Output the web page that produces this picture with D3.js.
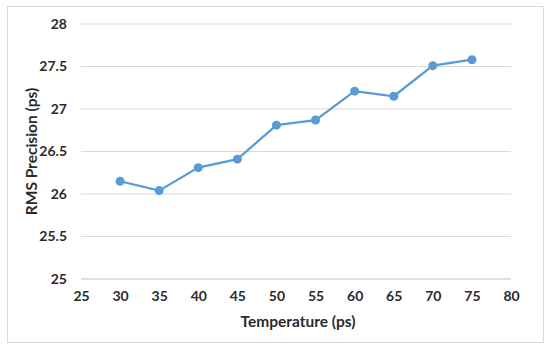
<!DOCTYPE html>
<html>
<head>
<meta charset="utf-8">
<script src="https://cdn.jsdelivr.net/npm/d3@7"></script>
<style>
  body { margin: 0; background: #fff; }
  text { font-family: Lato, "Open Sans", sans-serif; font-weight: bold; fill: #2b2b2b; }
</style>
</head>
<body>
<div id="chart"></div>
<script>
const temps = [30, 35, 40, 45, 50, 55, 60, 65, 70, 75];
const rms = [26.15, 26.04, 26.31, 26.41, 26.81, 26.87, 27.21, 27.15, 27.51, 27.58];
const xTicks = [25, 30, 35, 40, 45, 50, 55, 60, 65, 70, 75, 80];
const yTicks = [25, 25.5, 26, 26.5, 27, 27.5, 28];

const W = 550, H = 351;
const margin = { top: 24, left: 81, right: 39, bottom: 72 };

const svg = d3.select("#chart").append("svg")
    .attr("width", W)
    .attr("height", H);

svg.append("rect")
    .attr("x", 7.5).attr("y", 6.5)
    .attr("width", 536).attr("height", 336)
    .attr("fill", "#fff")
    .attr("stroke", "#d9d9d9");

const x = d3.scaleLinear().domain([25, 80]).range([margin.left, W - margin.right]);
const y = d3.scaleLinear().domain([25, 28]).range([H - margin.bottom, margin.top]);

// grid
svg.append("g")
    .selectAll("line")
    .data(yTicks)
    .enter().append("line")
    .attr("x1", x(25)).attr("x2", x(80))
    .attr("y1", d => y(d)).attr("y2", d => y(d))
    .attr("stroke", d => d === 25 ? "#bfbfbf" : "#d9d9d9")
    .attr("stroke-width", 1);

// y axis labels
const yAxis = svg.append("g")
    .attr("transform", `translate(${x(25)},0)`)
    .call(d3.axisLeft(y).tickValues(yTicks).tickSize(0).tickPadding(14).tickFormat(d3.format("")));
yAxis.select(".domain").remove();
yAxis.selectAll("text").style("font-size", "14px").attr("fill", "#2b2b2b");

// x axis labels
const xAxis = svg.append("g")
    .attr("transform", `translate(0,${y(25)})`)
    .call(d3.axisBottom(x).tickValues(xTicks).tickSize(0).tickPadding(12));
xAxis.select(".domain").remove();
xAxis.selectAll("text").style("font-size", "14px").attr("fill", "#2b2b2b");

// axis titles
svg.append("text")
    .attr("x", (x(25) + x(80)) / 2 + 2)
    .attr("y", 327)
    .attr("text-anchor", "middle")
    .style("font-size", "15.5px")
    .text("Temperature (ps)");

svg.append("text")
    .attr("transform", `translate(37,${(y(25) + y(28)) / 2}) rotate(-90)`)
    .attr("text-anchor", "middle")
    .style("font-size", "15.5px")
    .text("RMS Precision (ps)");

// line
const line = d3.line()
    .x((d, i) => x(temps[i]))
    .y(d => y(d));

svg.append("path")
    .datum(rms)
    .attr("d", line)
    .attr("fill", "none")
    .attr("stroke", "#5b9bd5")
    .attr("stroke-width", 2.25);

svg.selectAll("circle.pt")
    .data(rms)
    .enter().append("circle")
    .attr("class", "pt")
    .attr("cx", (d, i) => x(temps[i]))
    .attr("cy", d => y(d))
    .attr("r", 4.5)
    .attr("fill", "#5b9bd5");
</script>
</body>
</html>
